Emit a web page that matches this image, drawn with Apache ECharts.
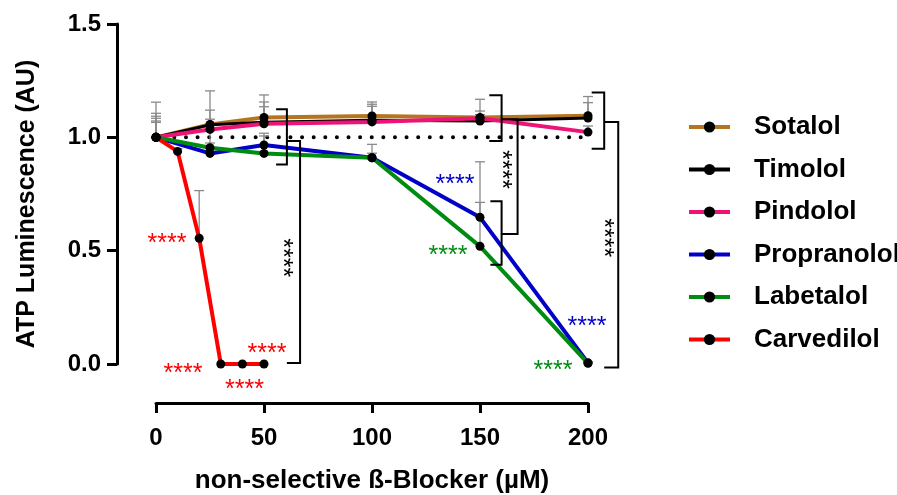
<!DOCTYPE html>
<html>
<head>
<meta charset="utf-8">
<script src="https://cdn.jsdelivr.net/npm/echarts@6/dist/echarts.min.js"></script>
<style>html,body{margin:0;padding:0;background:#fff}#c{width:897px;height:495px}</style>
</head>
<body>
<div id="c"></div>
<script>
// ---- data ----
const xConc = [0, 25, 50, 100, 150, 200];
const xCarv = [0, 10, 20, 30, 40, 50];
const seriesNames = ['Sotalol', 'Timolol', 'Pindolol', 'Propranolol', 'Labetalol', 'Carvedilol'];
const sotalol     = [1.0, 1.057, 1.088, 1.094, 1.088, 1.095];
const timolol     = [1.0, 1.055, 1.066, 1.075, 1.072, 1.085];
const pindolol    = [1.0, 1.035, 1.060, 1.068, 1.084, 1.023];
const propranolol = [1.0, 0.929, 0.966, 0.910, 0.647, 0.005];
const labetalol   = [1.0, 0.954, 0.929, 0.910, 0.519, 0.003];
const carvedilol  = [1.0, 0.938, 0.555, 0.0, 0.0, 0.0];
// upper ends of error bars (mean + SD)
const sotalolErr     = [1.155, 1.205, 1.187, 1.156, 1.168, 1.180];
const timololErr     = [1.106, 1.120, 1.156, 1.146, 1.116, 1.153];
const pindololErr    = [1.093, 1.080, 1.135, 1.137, 1.100, 1.050];
const propranololErr = [1.084, 1.028, 1.018, 0.969, 0.892, 0.010];
const labetalolErr   = [1.072, 0.975, 1.006, 0.930, 0.713, 0.010];
const carvedilolErr  = [1.066, 0.950, 0.765, 0.0, 0.0, 0.0];
const refLevel = 1.0;
const yTickLabels = ['0.0', '0.5', '1.0', '1.5'];
// significance brackets: [xInner, xOuter, yTop, yBottom]
const brackets = [
  [55.6, 60.6, 1.124, 0.880],
  [60.6, 66.7, 0.984, 0.004],
  [154.3, 160.0, 1.186, 0.984],
  [154.8, 160.0, 0.718, 0.438],
  [160.0, 167.4, 1.080, 0.574],
  [201.7, 207.5, 1.198, 0.950],
  [207.5, 214.0, 1.068, -0.015]
];
// star labels
const starX = [5.1, 12.5, 41.0, 51.4, 138.4, 135.2, 199.5, 183.8, 60.8, 162.2, 209.0];
const starY = [0.553, -0.022, -0.093, 0.066, 0.810, 0.500, 0.183, -0.009, 0.469, 0.858, 0.557];
const starText = ['****','****','****','****','****','****','****','****','****','****','****'];
const starColorKey = ['Carvedilol','Carvedilol','Carvedilol','Carvedilol','Propranolol','Labetalol','Propranolol','Labetalol','black','black','black'];
const starVertical = [0,0,0,0,0,0,0,0,1,1,1];

// ---- styles ----
const FONT = '"Liberation Sans", Arial, sans-serif';
const colors = {
  Sotalol: '#B5741F', Timolol: '#000000', Pindolol: '#EE1477',
  Propranolol: '#0000C8', Labetalol: '#008C10', Carvedilol: '#FF0000', black: '#000000'
};
const values = [sotalol, timolol, pindolol, propranolol, labetalol, carvedilol];
const errs = [sotalolErr, timololErr, pindololErr, propranololErr, labetalolErr, carvedilolErr];

const chart = echarts.init(document.getElementById('c'), null, {renderer: 'canvas'});

const series = [];
// reference dotted line
series.push({
  type: 'line', name: 'ref', data: [[-13, refLevel], [197.5, refLevel]],
  symbol: 'none', clip: false, silent: true, z: 1,
  lineStyle: {color: '#000', width: 4, type: [0.01, 11.6], cap: 'round'}
});
// error bars
seriesNames.forEach((n, i) => {
  const xs = n === 'Carvedilol' ? xCarv : xConc;
  series.push({
    type: 'custom', name: n + ' err', clip: false, silent: true, z: 2,
    data: xs.map((x, j) => [x, values[i][j], errs[i][j]]),
    renderItem: (params, api) => {
      const p0 = api.coord([api.value(0), api.value(1)]);
      const p1 = api.coord([api.value(0), api.value(2)]);
      if (Math.abs(p0[1] - p1[1]) < 1) return null;
      const st = {stroke: '#8a8a8a', lineWidth: 1.3};
      return {type: 'group', children: [
        {type: 'line', shape: {x1: p0[0], y1: p0[1], x2: p1[0], y2: p1[1]}, style: st},
        {type: 'line', shape: {x1: p1[0] - 5, y1: p1[1], x2: p1[0] + 5, y2: p1[1]}, style: st}
      ]};
    }
  });
});
// data lines
seriesNames.forEach((n, i) => {
  const xs = n === 'Carvedilol' ? xCarv : xConc;
  series.push({
    type: 'line', name: n, z: 3,
    data: xs.map((x, j) => [x, values[i][j]]),
    symbol: 'circle', symbolSize: 9,
    itemStyle: {color: '#000'},
    lineStyle: {color: colors[n], width: n === 'Timolol' ? 3 : 4},
    emphasis: {disabled: true}
  });
});
// brackets
series.push({
  type: 'custom', name: 'brackets', clip: false, silent: true, z: 4,
  data: brackets,
  renderItem: (params, api) => {
    const a = api.coord([api.value(0), api.value(2)]);
    const b = api.coord([api.value(1), api.value(2)]);
    const c = api.coord([api.value(1), api.value(3)]);
    const d = api.coord([api.value(0), api.value(3)]);
    return {type: 'polyline', shape: {points: [a, b, c, d]},
      style: {stroke: '#000', lineWidth: 2, fill: null}};
  }
});
// star labels
series.push({
  type: 'custom', name: 'stars', clip: false, silent: true, z: 5,
  data: starX.map((x, i) => [x, starY[i]]),
  renderItem: (params, api) => {
    const i = params.dataIndex;
    const p = api.coord([api.value(0), api.value(1)]);
    const vert = starVertical[i] === 1;
    return {type: 'text', x: p[0], y: p[1], rotation: vert ? -Math.PI / 2 : 0,
      style: {x: 0, y: 5, text: starText[i], fill: colors[starColorKey[i]],
        font: '25px ' + FONT, align: 'center', verticalAlign: 'middle'}};
  }
});

chart.setOption({
  animation: false,
  backgroundColor: '#fff',
  grid: {left: 156, right: 309, top: 24, bottom: 131, containLabel: false, outerBoundsMode: 'none'},
  xAxis: {
    type: 'value', min: 0, max: 200, interval: 50, offset: 39,
    name: 'non-selective ß-Blocker (µM)', nameLocation: 'middle', nameGap: 65,
    nameTextStyle: {fontFamily: FONT, fontWeight: 'bold', fontSize: 26, color: '#000'},
    axisLine: {show: true, onZero: false, lineStyle: {color: '#000', width: 3}},
    axisTick: {show: true, length: 10, lineStyle: {color: '#000', width: 3}},
    axisLabel: {fontFamily: FONT, fontWeight: 'bold', fontSize: 24, color: '#000', margin: 23},
    splitLine: {show: false}
  },
  yAxis: {
    type: 'value', min: 0, max: 1.5, interval: 0.5, offset: 39,
    name: 'ATP Luminescence (AU)', nameLocation: 'middle', nameGap: 77,
    nameTextStyle: {fontFamily: FONT, fontWeight: 'bold', fontSize: 25, color: '#000', padding: [0, 20, 0, 0]},
    axisLine: {show: true, onZero: false, lineStyle: {color: '#000', width: 3}},
    axisTick: {show: true, length: 10, lineStyle: {color: '#000', width: 3}},
    axisLabel: {fontFamily: FONT, fontWeight: 'bold', fontSize: 24, color: '#000', margin: 16,
      formatter: v => yTickLabels[Math.round(v / 0.5)]},
    splitLine: {show: false}
  },
  legend: {
    data: seriesNames, orient: 'vertical', left: 687, top: 114, padding: 0,
    itemWidth: 41, itemHeight: 14, itemGap: 16.5,
    lineStyle: {width: 4},
    textStyle: {fontFamily: FONT, fontWeight: 'bold', fontSize: 26, lineHeight: 26, color: '#000', padding: [0, 0, 0, 19]},
    selectedMode: false
  },
  series: series
});
</script>
</body>
</html>
